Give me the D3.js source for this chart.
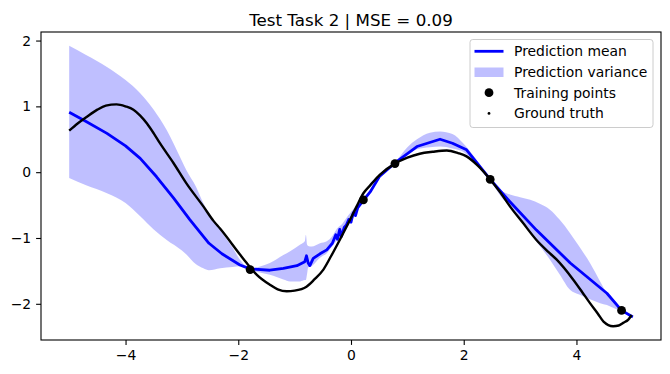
<!DOCTYPE html>
<html>
<head>
<meta charset="utf-8">
<script src="https://cdn.jsdelivr.net/npm/d3@7"></script>
<style>
  body { margin: 0; background: #fff; }
  text { font-family: "DejaVu Sans", sans-serif; }
</style>
</head>
<body>
<script>
// values
var meanX = [-5.0, -4.7, -4.33, -4.0, -3.74, -3.45, -3.15, -2.86, -2.52, -2.29, -1.97, -1.79, -1.44, -1.2, -0.96,
  -0.82, -0.79, -0.76, -0.73, -0.67, -0.55, -0.43, -0.33, -0.27, -0.24, -0.2, -0.17, -0.12, -0.08, -0.04, 0.0,
  0.04, 0.08, 0.12, 0.22, 0.34, 0.51, 0.78, 1.17, 1.58, 1.8, 2.05, 2.47, 2.82, 3.29, 3.89, 4.54, 4.8, 5.0];
var meanY = [0.91, 0.77, 0.59, 0.40, 0.21, -0.07, -0.39, -0.72, -1.08, -1.24, -1.41, -1.47, -1.49, -1.46, -1.42,
  -1.36, -1.27, -1.38, -1.42, -1.31, -1.24, -1.18, -1.08, -0.95, -1.02, -0.87, -0.98, -0.84, -0.80, -0.72, -0.76,
  -0.62, -0.66, -0.54, -0.43, -0.30, -0.06, 0.14, 0.39, 0.50, 0.44, 0.34, -0.11, -0.45, -0.88, -1.38, -1.84, -2.10, -2.20];

var bandX = [-5.0, -4.7, -4.33, -4.0, -3.74, -3.5, -3.27, -3.0, -2.92, -2.75, -2.62, -2.52, -2.32, -2.1, -1.97,
  -1.79, -1.6, -1.44, -1.2, -1.08, -0.9, -0.82, -0.8, -0.78, -0.76, -0.7, -0.55, -0.43, -0.33, -0.25, -0.15,
  -0.05, 0.05, 0.12, 0.22, 0.34, 0.51, 0.78, 1.0, 1.17, 1.4, 1.58, 1.8, 1.99, 2.2, 2.47, 2.65, 2.82, 3.0,
  3.18, 3.35, 3.53, 3.7, 3.89, 4.05, 4.24, 4.42, 4.54, 4.7, 4.8, 5.0];
var bandUpper = [1.92, 1.78, 1.60, 1.40, 1.20, 0.95, 0.64, 0.17, 0.03, -0.22, -0.47, -0.62, -0.88, -1.15, -1.33,
  -1.46, -1.43, -1.38, -1.26, -1.20, -1.10, -1.05, -0.95, -1.10, -1.12, -1.13, -1.08, -1.05, -0.97, -0.86, -0.78,
  -0.66, -0.55, -0.49, -0.41, -0.28, -0.04, 0.15, 0.38, 0.50, 0.60, 0.62, 0.58, 0.44, 0.22, -0.10, -0.27, -0.34, -0.38,
  -0.42, -0.48, -0.57, -0.72, -0.93, -1.13, -1.38, -1.66, -1.84, -2.00, -2.09, -2.18];
var bandLower = [-0.09, -0.20, -0.32, -0.47, -0.67, -0.87, -1.03, -1.19, -1.25, -1.40, -1.46, -1.49, -1.46, -1.44, -1.43,
  -1.49, -1.53, -1.56, -1.63, -1.66, -1.66, -1.64, -1.64, -1.55, -1.45, -1.43, -1.30, -1.23, -1.12, -1.04, -0.95,
  -0.82, -0.68, -0.58, -0.45, -0.32, -0.08, 0.13, 0.27, 0.35, 0.38, 0.39, 0.36, 0.31, 0.14, -0.12, -0.36, -0.52, -0.72,
  -0.93, -1.12, -1.33, -1.55, -1.79, -1.86, -1.93, -1.99, -2.02, -2.08, -2.11, -2.22];

var truthX = [-5.0, -4.85, -4.69, -4.5, -4.35, -4.16, -4.0, -3.86, -3.74, -3.62, -3.5, -3.39, -3.15, -2.92, -2.62,
  -2.44, -2.32, -1.97, -1.85, -1.67, -1.44, -1.3, -1.14, -1.0, -0.79, -0.65, -0.49, -0.35, -0.2, -0.05, 0.1,
  0.22, 0.34, 0.51, 0.78, 1.0, 1.22, 1.45, 1.7, 1.9, 2.05, 2.25, 2.47, 2.65, 2.82, 3.05, 3.29, 3.5, 3.65,
  3.94, 4.1, 4.24, 4.38, 4.48, 4.65, 4.75, 4.83, 4.92, 4.98];
var truthY = [0.63, 0.74, 0.84, 0.95, 1.01, 1.03, 1.00, 0.95, 0.86, 0.74, 0.59, 0.44, 0.14, -0.17, -0.52,
  -0.74, -0.86, -1.25, -1.38, -1.56, -1.71, -1.78, -1.81, -1.80, -1.74, -1.63, -1.48, -1.27, -1.03, -0.78, -0.52,
  -0.32, -0.20, -0.04, 0.13, 0.22, 0.28, 0.31, 0.33, 0.29, 0.24, 0.10, -0.11, -0.31, -0.52, -0.77, -1.03, -1.21, -1.33,
  -1.63, -1.82, -1.99, -2.15, -2.27, -2.34, -2.33, -2.29, -2.24, -2.17];

var trainX = [-1.79, 0.22, 0.78, 2.47, 4.8];
var trainY = [-1.48, -0.42, 0.13, -0.11, -2.10];

var xTicks = [-4, -2, 0, 2, 4];
var yTicks = [-2, -1, 0, 1, 2];
var legendLabels = ["Prediction mean", "Prediction variance", "Training points", "Ground truth"];
var title = "Test Task 2 | MSE = 0.09";

var width = 670, height = 374;
var plotL = 41, plotR = 661, plotT = 32, plotB = 340;

var svg = d3.select("body").append("svg")
  .attr("width", width)
  .attr("height", height);

var x = d3.scaleLinear().domain([-5.5, 5.5]).range([plotL, plotR]);
var y = d3.scaleLinear().domain([-2.55, 2.13]).range([plotB, plotT]);

var g = svg.append("g");

// variance band
var band = bandX.map((v, i) => [v, bandUpper[i], bandLower[i]]);
g.append("path")
  .attr("fill", "#0000ff")
  .attr("fill-opacity", 0.25)
  .attr("d", d3.area().x(d => x(d[0])).y0(d => y(d[2])).y1(d => y(d[1])).curve(d3.curveMonotoneX)(band));

// mean
g.append("path")
  .attr("fill", "none")
  .attr("stroke", "#0000ff")
  .attr("stroke-width", 2.8)
  .attr("stroke-linejoin", "round")
  .attr("d", d3.line().x(d => x(d[0])).y(d => y(d[1]))(meanX.map((v, i) => [v, meanY[i]])));

// ground truth
g.append("path")
  .attr("fill", "none")
  .attr("stroke", "#000")
  .attr("stroke-width", 2.4)
  .attr("stroke-linejoin", "round")
  .attr("d", d3.line().x(d => x(d[0])).y(d => y(d[1])).curve(d3.curveMonotoneX)(truthX.map((v, i) => [v, truthY[i]])));

// training points
g.selectAll("circle.train")
  .data(trainX.map((v, i) => [v, trainY[i]]))
  .join("circle")
  .attr("class", "train")
  .attr("cx", d => x(d[0]))
  .attr("cy", d => y(d[1]))
  .attr("r", 4.4)
  .attr("fill", "#000");

// axes
var fmt = d => String(d).replace("-", "\u2212");
var xAxis = svg.append("g")
  .attr("transform", "translate(0," + plotB + ")")
  .call(d3.axisBottom(x).tickValues(xTicks).tickSize(4.9).tickPadding(4.9).tickFormat(fmt));
var yAxis = svg.append("g")
  .attr("transform", "translate(" + plotL + ",0)")
  .call(d3.axisLeft(y).tickValues(yTicks).tickSize(4.9).tickPadding(4.9).tickFormat(fmt));
[xAxis, yAxis].forEach(a => {
  a.select(".domain").remove();
  a.selectAll("line").attr("stroke", "#000").attr("stroke-width", 1.1);
  a.selectAll("text").attr("font-size", 13.9).attr("fill", "#000").attr("font-family", "DejaVu Sans");
});

svg.append("rect")
  .attr("x", plotL).attr("y", plotT)
  .attr("width", plotR - plotL).attr("height", plotB - plotT)
  .attr("fill", "none")
  .attr("stroke", "#000")
  .attr("stroke-width", 1.1);

svg.append("text")
  .attr("x", (plotL + plotR) / 2)
  .attr("y", 25.5)
  .attr("text-anchor", "middle")
  .attr("font-size", 16.7)
  .text(title);

// legend
var lg = svg.append("g").attr("transform", "translate(470,39.5)");
lg.append("rect")
  .attr("width", 183).attr("height", 88)
  .attr("rx", 2.8)
  .attr("fill", "#fff").attr("fill-opacity", 0.8)
  .attr("stroke", "#cccccc").attr("stroke-width", 1);

var rowY = i => 11.8 + i * 20.7;
lg.append("line")
  .attr("x1", 4.5).attr("x2", 33.5)
  .attr("y1", rowY(0)).attr("y2", rowY(0))
  .attr("stroke", "#0000ff").attr("stroke-width", 2.8);
lg.append("rect")
  .attr("x", 4.5).attr("y", rowY(1) - 4.5)
  .attr("width", 29).attr("height", 9.5)
  .attr("fill", "#0000ff").attr("fill-opacity", 0.25);
lg.append("circle")
  .attr("cx", 19).attr("cy", rowY(2)).attr("r", 4.4).attr("fill", "#000");
lg.append("circle")
  .attr("cx", 19).attr("cy", rowY(3)).attr("r", 1.4).attr("fill", "#000");

lg.selectAll("text.lab")
  .data(legendLabels)
  .join("text")
  .attr("class", "lab")
  .attr("x", 44)
  .attr("y", (d, i) => rowY(i) + 5)
  .attr("font-size", 13.9)
  .text(d => d);
</script>
</body>
</html>
